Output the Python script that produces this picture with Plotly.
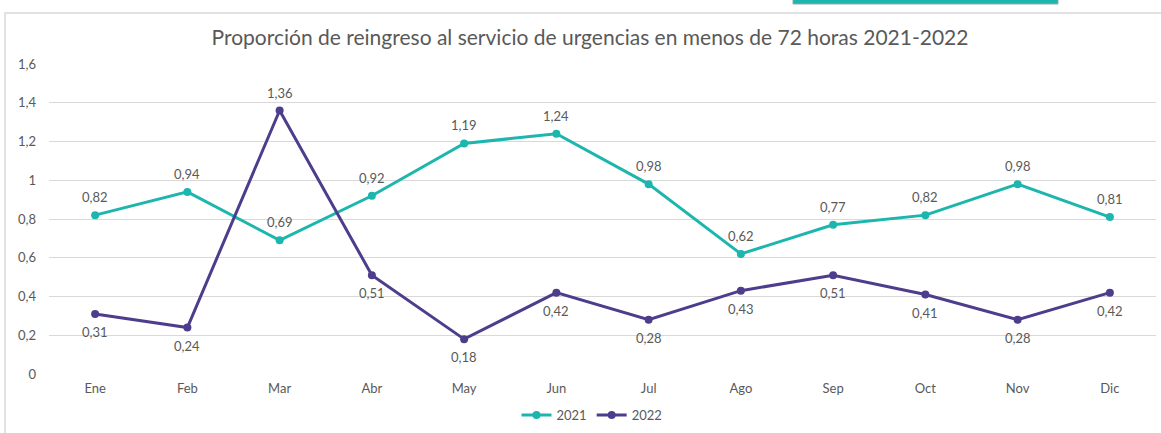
import plotly.graph_objects as go

months = ["Ene", "Feb", "Mar", "Abr", "May", "Jun", "Jul", "Ago", "Sep", "Oct", "Nov", "Dic"]
values_2021 = [0.82, 0.94, 0.69, 0.92, 1.19, 1.24, 0.98, 0.62, 0.77, 0.82, 0.98, 0.81]
values_2022 = [0.31, 0.24, 1.36, 0.51, 0.18, 0.42, 0.28, 0.43, 0.51, 0.41, 0.28, 0.42]
label_pos_2022 = ["below", "below", "above", "below", "below", "below", "below", "below", "below", "below", "below", "below"]
y_ticks = [0, 0.2, 0.4, 0.6, 0.8, 1, 1.2, 1.4, 1.6]

TEAL = "#1CB6AE"
PURPLE = "#4E3D8C"
TEXT = "#595959"
FONT = "Lato"

# plot area in pixels: x 49..1156, y 64..374
L, R, T, B = 49, 1156, 64, 374
W, H = R - L, B - T
def px(x): return (x - L) / W
def py(y): return (B - y) / H

def fmt(v):
    return f"{v:.2f}".replace(".", ",")

fig = go.Figure()
fig.add_trace(go.Scatter(x=months, y=values_2021, name="2021", mode="lines+markers",
                         line=dict(color=TEAL, width=3), marker=dict(color=TEAL, size=8)))
fig.add_trace(go.Scatter(x=months, y=values_2022, name="2022", mode="lines+markers",
                         line=dict(color=PURPLE, width=3), marker=dict(color=PURPLE, size=8)))

annotations = []
for m, v in zip(months, values_2021):
    annotations.append(dict(x=m, y=v, xref="x", yref="y", text=fmt(v), showarrow=False,
                            yshift=18, font=dict(family=FONT, size=13, color=TEXT)))
for m, v, p in zip(months, values_2022, label_pos_2022):
    annotations.append(dict(x=m, y=v, xref="x", yref="y", text=fmt(v), showarrow=False,
                            yshift=18 if p == "above" else -18,
                            font=dict(family=FONT, size=13, color=TEXT)))

shapes = [
    dict(type="rect", xref="paper", yref="paper", x0=px(5), x1=px(1175), y0=py(445), y1=py(13),
         line=dict(color="#D9D9D9", width=1.5), fillcolor="rgba(0,0,0,0)", layer="below"),
    dict(type="rect", xref="paper", yref="paper", x0=px(793), x1=px(1058), y0=py(4), y1=py(-6),
         line=dict(color="#9AA7A6", width=1), fillcolor=TEAL),
]

fig.update_layout(
    width=1161, height=433,
    margin=dict(l=L, r=1161 - R, t=T, b=433 - B, autoexpand=False),
    paper_bgcolor="white", plot_bgcolor="white",
    separators=",.",
    font=dict(family=FONT, color=TEXT),
    title=dict(text="Proporción de reingreso al servicio de urgencias en menos de 72 horas 2021-2022",
               x=px(590), xref="paper", xanchor="center", y=1 - 38 / 433, yanchor="middle",
               font=dict(family=FONT, size=21, color=TEXT)),
    xaxis=dict(showgrid=False, showline=False, ticks="", tickfont=dict(size=13, color=TEXT),
               ticklabelstandoff=5, automargin=False, range=[-0.5, len(months) - 0.5]),
    yaxis=dict(range=[0, 1.6], tickvals=y_ticks, showgrid=True, gridcolor="#D9D9D9", gridwidth=1,
               zeroline=False, showline=False, ticks="", tickfont=dict(size=13, color=TEXT),
               ticklabelstandoff=12, automargin=False),
    legend=dict(orientation="h", x=px(592), xanchor="center", y=py(415), yanchor="middle",
                font=dict(family=FONT, size=13, color=TEXT), itemwidth=30, tracegroupgap=0),
    annotations=annotations,
    shapes=shapes,
    showlegend=True,
)

fig.write_html("out.html", config={"displayModeBar": False},
               post_script="document.body.style.margin='0';document.body.style.overflow='hidden';")
